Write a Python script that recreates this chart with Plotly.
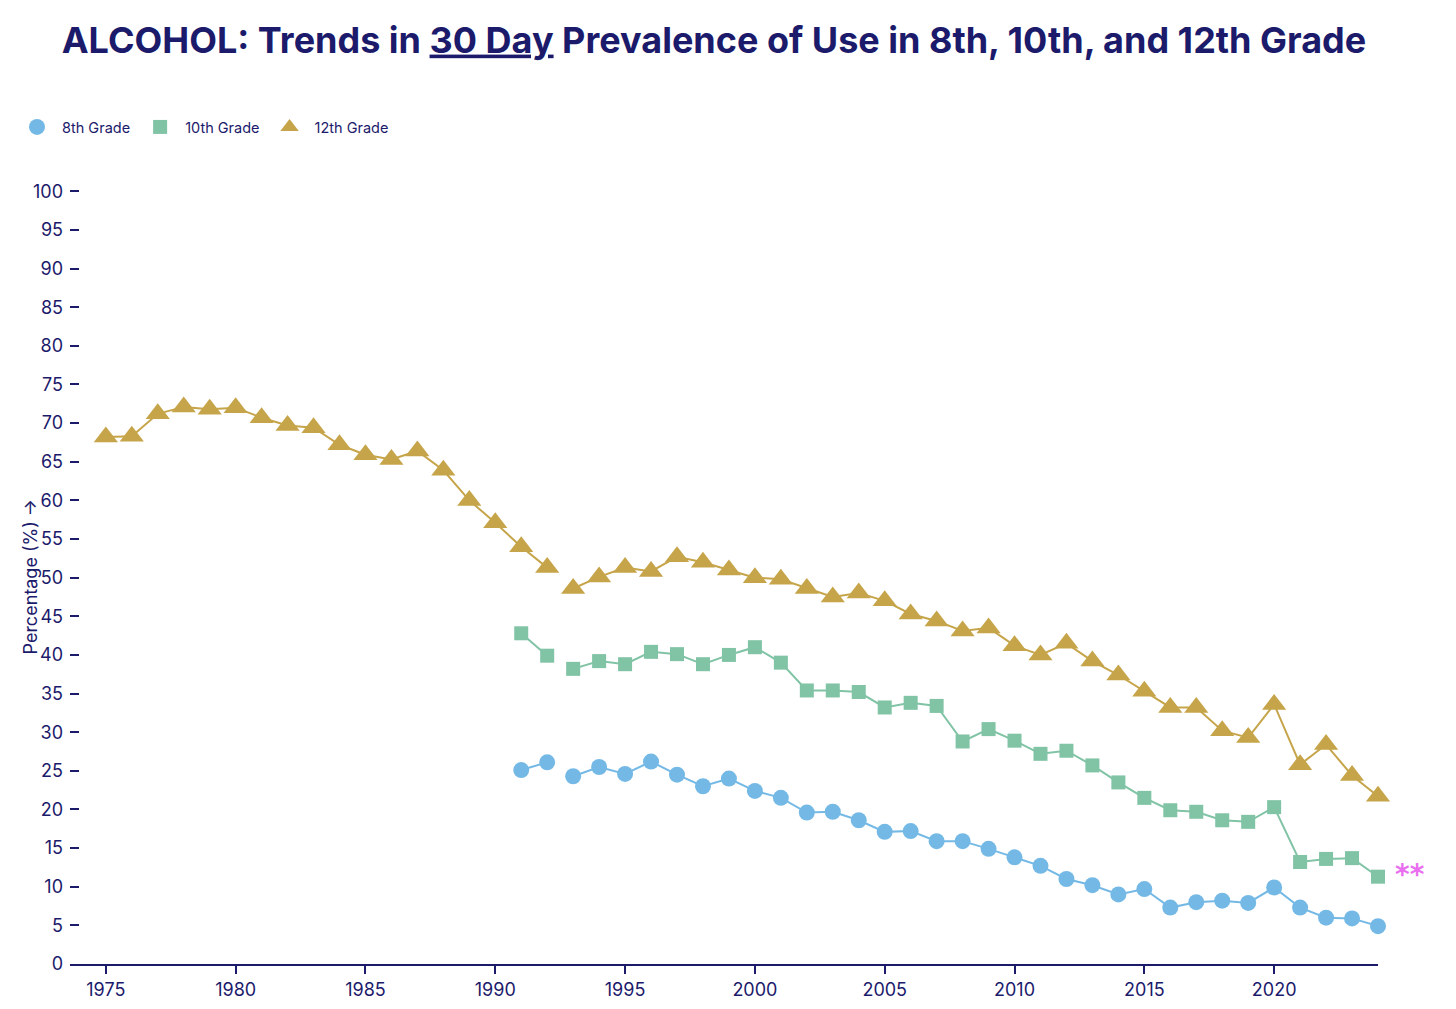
import plotly.graph_objects as go

years_12 = list(range(1975, 2025))
grade12 = [68.2, 68.3, 71.2, 72.1, 71.8, 72.0, 70.7, 69.7, 69.4, 67.2,
           65.9, 65.3, 66.4, 63.9, 60.0, 57.1, 54.0, 51.3, 48.6, 50.1,
           51.3, 50.8, 52.7, 52.0, 51.0, 50.0, 49.8, 48.6, 47.5, 48.0,
           47.0, 45.3, 44.4, 43.1, 43.5, 41.2, 40.0, 41.5, 39.2, 37.4,
           35.3, 33.2, 33.2, 30.2, 29.3, 33.6, 25.8, 28.4, 24.4, 21.7]

years_8_10 = list(range(1991, 2025))
grade10 = [42.8, 39.9, 38.2, 39.2, 38.8, 40.4, 40.1, 38.8, 40.0, 41.0,
           39.0, 35.4, 35.4, 35.2, 33.2, 33.8, 33.4, 28.8, 30.4, 28.9,
           27.2, 27.6, 25.7, 23.5, 21.5, 19.9, 19.7, 18.6, 18.4, 20.3,
           13.2, 13.6, 13.7, 11.3]
grade8 = [25.1, 26.1, 24.3, 25.5, 24.6, 26.2, 24.5, 23.0, 24.0, 22.4,
          21.5, 19.6, 19.7, 18.6, 17.1, 17.2, 15.9, 15.9, 14.9, 13.8,
          12.7, 11.0, 10.2, 9.0, 9.7, 7.3, 8.0, 8.2, 7.9, 9.9,
          7.3, 6.0, 5.9, 4.9]

break_year = 1993  # question change: lines are not joined across 1992 -> 1993
x_ticks = list(range(1975, 2021, 5))
y_ticks = list(range(0, 101, 5))
note_year = 2024
note_value = 11.9

NAVY = "#1b1a6b"
C8 = "#74b9e6"
C10 = "#80c3a5"
C12 = "#c6a54a"
PINK = "#e96ef0"

series = [
    ("8th Grade", years_8_10, grade8, C8, "circle", 16),
    ("10th Grade", years_8_10, grade10, C10, "square", 14),
    ("12th Grade", years_12, grade12, C12, "triangle-up", 21),
]

fig = go.Figure()

for name, xs, ys, col, sym, sz in series:
    before = [(x, y) for x, y in zip(xs, ys) if x < break_year]
    after = [(x, y) for x, y in zip(xs, ys) if x >= break_year]
    for seg in (before, after):
        fig.add_trace(go.Scatter(
            x=[p[0] for p in seg], y=[p[1] for p in seg], mode="lines",
            line=dict(color=col, width=2), showlegend=False, hoverinfo="skip",
            cliponaxis=False))

for name, xs, ys, col, sym, sz in series:
    fig.add_trace(go.Scatter(
        x=xs, y=ys, mode="markers", name=name,
        marker=dict(color=col, symbol=sym, size=sz, line=dict(width=0)),
        cliponaxis=False))

fig.add_annotation(x=note_year, y=note_value, text="<b>**</b>", showarrow=False,
                   xshift=32, yshift=-2, font=dict(color=PINK, size=28, family="DejaVu Sans"),
                   xanchor="center", yanchor="middle")

fig.add_annotation(xref="paper", yref="paper", x=-40 / 1308, y=0.5,
                   text="Percentage (%) →", textangle=-90, showarrow=False,
                   xanchor="center", yanchor="middle",
                   font=dict(size=18, color=NAVY))

fig.update_layout(
    width=1456, height=1009,
    margin=dict(l=70, r=78, t=189, b=45),
    paper_bgcolor="white", plot_bgcolor="white",
    font=dict(family="Inter, Liberation Sans, sans-serif", color=NAVY),
    title=dict(
        text="<b>ALCOHOL: Trends in <u>30 Day</u> Prevalence of Use in 8th, 10th, and 12th Grade</b>",
        x=714 / 1456, xanchor="center", xref="container",
        y=1 - 40 / 1009, yanchor="middle", yref="container",
        font=dict(size=36, color=NAVY, family="Inter, Liberation Sans, sans-serif")),
    legend=dict(
        orientation="h", xref="container", yref="container",
        x=12 / 1456, y=1 - 127 / 1009, xanchor="left", yanchor="middle",
        font=dict(size=14.5, color=NAVY), itemsizing="trace", itemwidth=40),
    xaxis=dict(
        range=[1973.62, 2024], tickvals=x_ticks, showgrid=False, zeroline=False,
        showline=True, linecolor=NAVY, linewidth=2, automargin=False,
        ticks="outside", ticklen=8, tickwidth=1.5, tickcolor=NAVY,
        tickfont=dict(size=18, color=NAVY)),
    yaxis=dict(
        range=[0, 100.3], tickvals=y_ticks, showgrid=False, zeroline=False,
        showline=False, ticks="inside", ticklen=9, tickwidth=1.5, tickcolor=NAVY,
        ticklabelstandoff=6, automargin=False,
        tickfont=dict(size=18, color=NAVY)),
)

fig.write_html("out.html", post_script="document.body.style.margin='0';",
               config={"displayModeBar": False})
